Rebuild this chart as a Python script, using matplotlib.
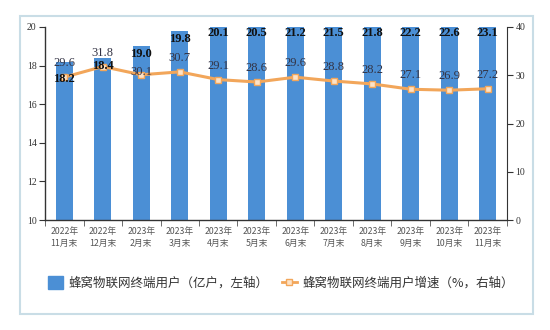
import matplotlib
matplotlib.use("Agg")
import matplotlib.pyplot as plt
import numpy as np
from matplotlib.patches import Rectangle
from matplotlib.lines import Line2D
from matplotlib.patches import Patch

plt.rcParams['font.family'] = ['Noto Sans CJK SC', 'DejaVu Sans']

categories = ["2022年\n11月末", "2022年\n12月末", "2023年\n2月末", "2023年\n3月末",
              "2023年\n4月末", "2023年\n5月末", "2023年\n6月末", "2023年\n7月末",
              "2023年\n8月末", "2023年\n9月末", "2023年\n10月末", "2023年\n11月末"]
users = [18.2, 18.4, 19.0, 19.8, 20.1, 20.5, 21.2, 21.5, 21.8, 22.2, 22.6, 23.1]
growth = [29.6, 31.8, 30.1, 30.7, 29.1, 28.6, 29.6, 28.8, 28.2, 27.1, 26.9, 27.2]
left_ticks = [10, 12, 14, 16, 18, 20]
right_ticks = [0, 10, 20, 30, 40]
legend_labels = ["蜂窝物联网终端用户（亿户，左轴）", "蜂窝物联网终端用户增速（%，右轴）"]

bar_color = "#4b8fd5"
line_color = "#f2a65a"
serif = "Liberation Serif"

fig = plt.figure(figsize=(5.5, 3.3), dpi=100)
fig.patches.append(Rectangle((20/550, 1-314/330), 513/550, 298/330, transform=fig.transFigure,
                             fill=False, edgecolor="#c9dde6", linewidth=1.5))
ax = fig.add_axes([45/550, 1-220/330, 462/550, 193/330])
x = np.arange(len(categories))
ax.bar(x, users, width=0.45, color=bar_color, zorder=1)
ax.set_ylim(10, 20)
ax.set_xlim(-0.5, len(categories)-0.5)
ax.set_yticks(left_ticks)
ax.set_yticklabels([str(t) for t in left_ticks], family=serif, fontsize=7, color="#333333")
ax.set_xticks(x)
ax.set_xticklabels(categories, fontsize=6.3, color="#555555", linespacing=1.5)
ax.tick_params(axis='x', length=0, pad=5)
ax.set_xticks(np.arange(-0.5, len(categories), 1), minor=True)
ax.tick_params(axis='x', which='minor', length=4, color="#555555", direction='out')
ax.tick_params(axis='y', length=4, color="#333333", pad=2)
ax.spines['top'].set_visible(False)
ax.spines['right'].set_visible(False)
for s in ['left', 'bottom']:
    ax.spines[s].set_color("#333333")
    ax.spines[s].set_linewidth(1.0)

ax2 = ax.twinx()
ax2.plot(x, growth, color=line_color, linewidth=2.2, marker='s', markersize=4,
         markerfacecolor="#fde3c8", markeredgecolor=line_color, zorder=3)
ax2.set_ylim(0, 40)
ax2.set_yticks(right_ticks)
ax2.set_yticklabels([str(t) for t in right_ticks], family=serif, fontsize=7, color="#333333")
ax2.tick_params(axis='y', length=4, color="#333333", pad=2)
for s in ['top', 'left', 'bottom']:
    ax2.spines[s].set_visible(False)
ax2.spines['right'].set_color("#333333")

bar_off = {0: -17}
for i, v in enumerate(users):
    ax2.annotate(f"{v:.1f}", xy=(i, min(v, 20) * 4 - 40), xytext=(0, bar_off.get(i, -8 if v < 20 else -6)),
                 textcoords='offset pixels', ha='center', va='center', fontsize=9,
                 fontweight='bold', family=serif, color="#111111", zorder=5)
line_off = {2: 3}
for i, v in enumerate(growth):
    ax2.annotate(f"{v:.1f}", xy=(i, v), xytext=(0, line_off.get(i, 14)),
                 textcoords='offset pixels', ha='center', va='center', fontsize=9,
                 family=serif, color="#333344", zorder=5)

handles = [Patch(facecolor=bar_color, edgecolor=bar_color),
           Line2D([0], [0], color=line_color, linewidth=2, marker='s', markersize=4,
                  markerfacecolor="#fde3c8", markeredgecolor=line_color)]
fig.legend(handles, legend_labels, loc='center', bbox_to_anchor=(281/550, 1-283/330), ncol=2,
           frameon=False, fontsize=9, handlelength=1.2, handleheight=1.2, handletextpad=0.5,
           columnspacing=1.0, labelcolor="#333333")

fig.savefig("out.png", dpi=100)
